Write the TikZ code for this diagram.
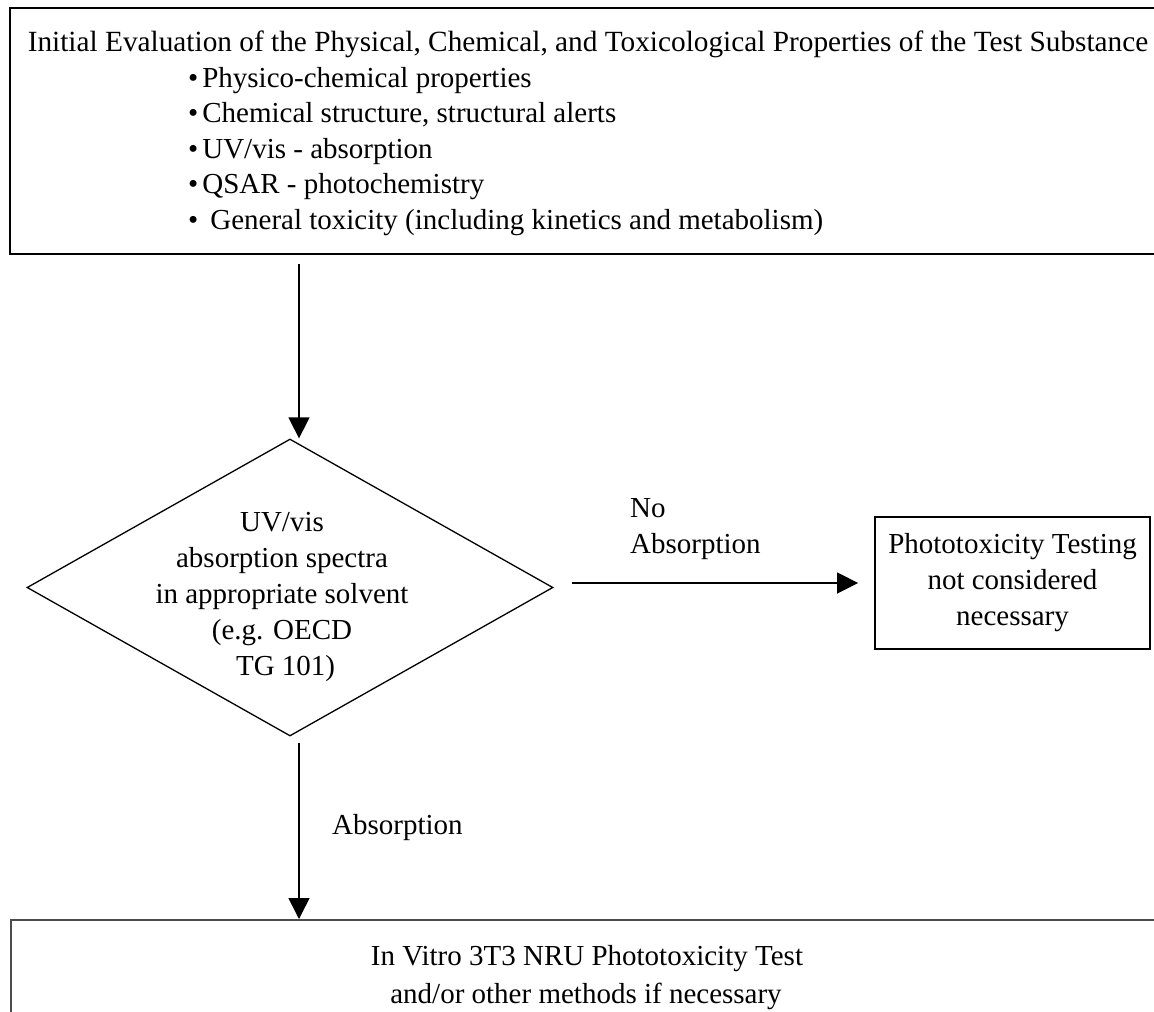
\documentclass[tikz,border=0pt]{standalone}
\usepackage{fontspec}
\setmainfont{Liberation Serif}
\usetikzlibrary{arrows.meta,shapes.geometric,calc}
\begin{document}
\begin{tikzpicture}[x=1pt,y=-1pt,
  txt/.style={font=\fontsize{29}{36}\selectfont, inner sep=0pt},
  bigbox/.style={draw=black, line width=2pt, rectangle, inner sep=0pt, anchor=north west},
  arr/.style={-{Triangle[length=21pt,width=21pt]}, line width=1.5pt},
  ]
\useasboundingbox (0,0) rectangle (1154,1012);
\clip (0,0) rectangle (1154,1012);

% top box
\node[bigbox, minimum width=1170pt, minimum height=246pt] (topbox) at (9,7) {};
\node[txt, font=\fontsize{29.3}{36}\selectfont, anchor=base] (title) at (588,51) {Initial Evaluation of the Physical, Chemical, and Toxicological Properties of the Test Substance};
\node[txt, anchor=base west] (b1) at (188,87)  {•\hspace{4pt}Physico-chemical properties};
\node[txt, anchor=base west] (b2) at (188,122) {•\hspace{4pt}Chemical structure, structural alerts};
\node[txt, anchor=base west] (b3) at (188,158) {•\hspace{4pt}UV/vis - absorption};
\node[txt, anchor=base west] (b4) at (188,193) {•\hspace{4pt}QSAR - photochemistry};
\node[txt, anchor=base west] (b5) at (188,229) {•\hspace{12pt}General toxicity (including kinetics and metabolism)};

% diamond
\node[diamond, draw, line width=1.3pt, minimum width=526pt, minimum height=297pt, inner sep=0pt] (dia) at (290,587.5) {};
\node[txt, align=center] (dtext) at (282,597) {UV/vis\\absorption spectra\\in appropriate solvent\\(e.g. OECD\\\ TG 101)};

% right box
\node[txt, draw, line width=1.8pt, minimum width=275pt, minimum height=132pt, align=center] (rbox) at (1012.5,583) {Phototoxicity Testing\\not considered\\necessary};

% bottom box
\node[bigbox, draw=black!70, minimum width=1170pt, minimum height=130pt] (bbox) at (10,919) {};
\node[txt, anchor=base] (bt1) at (587,965) {In Vitro 3T3 NRU Phototoxicity Test};
\node[txt, anchor=base] (bt2) at (586,1003) {and/or other methods if necessary};

% labels
\node[txt, anchor=base west] (no) at (630,517) {No};
\node[txt, anchor=base west] (abs1) at (630,553) {Absorption};
\node[txt, anchor=base west] (abs2) at (332,834) {Absorption};

% connectors
\coordinate (ax) at (299,0);
\draw[arr] ($(topbox.south -| ax)+(0,9)$) -- (dia.north -| ax);
\draw[arr] ($(dia.east)+(18,-4.5)$) -- ($(rbox.west)+(-16,0)$);
\draw[arr] ($(dia.south -| ax)+(0,6)$) -- (bbox.north -| ax);
\end{tikzpicture}
\end{document}
